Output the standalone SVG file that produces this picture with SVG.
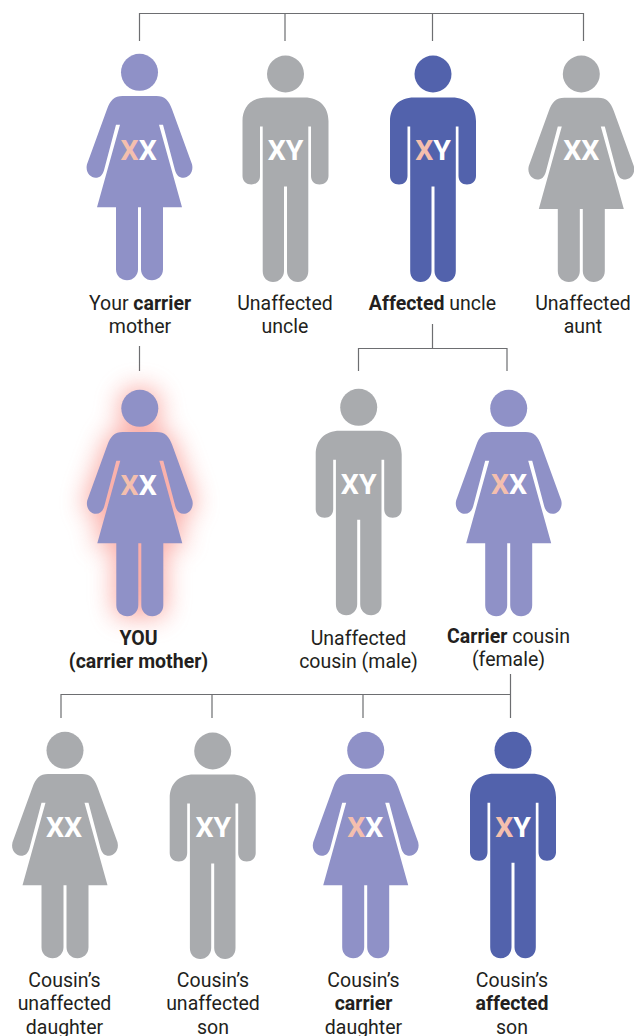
<svg xmlns="http://www.w3.org/2000/svg" width="634" height="1036" viewBox="0 0 634 1036">
<style>
text{font-family:Roboto,"Liberation Sans",sans-serif;font-size:19.500px;fill:#231f20;text-anchor:middle}
.b{font-weight:700}
.g{font-size:28.500px;font-weight:700;fill:#fff}
.p{fill:#f4bfae}
.gray{fill:#a9abae}.pur{fill:#8f91c7}.dark{fill:#5262ac}
.conn{fill:none;stroke:#6d6e71;stroke-width:1.200}
</style>
<defs>
<g id="f">
<circle cx="0" cy="0" r="18.500"/>
<path d="M0,23.700H17C25,23.700 29.500,28 32.500,37L52.500,92C54.500,100 49,105.500 44,105.500C39.500,105.500 37,103 35.500,98L23.500,52.500H19.500L42.500,135H23.500V197C23.500,204 18,208 12.500,208C6,208 1.500,203 1.500,197V135H-1.500V197C-1.500,203 -6,208 -12.500,208C-18,208 -23.500,204 -23.500,197V135H-42.500L-19.500,52.500H-23.500L-35.500,98C-37,103 -39.500,105.500 -44,105.500C-49,105.500 -54.500,100 -52.500,92L-32.500,37C-29.500,28 -25,23.700 -17,23.700Z"/>
</g>
<g id="m">
<circle cx="0" cy="0" r="18.500"/>
<path d="M0,23.500H19C34,23.500 43,33 43,47V102C43,107 39,110.500 34,110.500C29,110.500 25.500,107 25.500,102V52.500H22.800V197C22.800,204 18,208 12.500,208C6,208 1.500,203 1.500,197V112.500H-1.500V197C-1.500,203 -6,208 -12.500,208C-18,208 -22.800,204 -22.800,197V52.500H-25.500V102C-25.500,107 -29,110.500 -34,110.500C-39,110.500 -43,107 -43,102V47C-43,33 -34,23.500 -19,23.500Z"/>
</g>
<filter id="glow" x="-70%" y="-35%" width="240%" height="170%"><feGaussianBlur stdDeviation="12"/></filter>
</defs>
<g id="connectors" class="conn">
<path d="M139.500,41V13.500H583.500V41M285,13.500V41M432.500,13.500V41"/>
<path d="M139.500,346V371"/>
<path d="M432.500,324V348.500M358.500,371V348.500H507V371"/>
<path d="M61,718V694.500H511M510.500,674V718M212,694.500V718M363,694.500V718"/>
</g>
<g id="mother"><use href="#f" x="139.500" y="72.300" class="pur"/><text class="g" x="138.700" y="160"><tspan class="p">X</tspan>X</text><text x="140" y="309.800">Your <tspan class="b">carrier</tspan></text><text x="140" y="333.200">mother</text></g>
<g id="uncle"><use href="#m" x="285.500" y="74" class="gray"/><text class="g" x="285.500" y="160">XY</text><text x="285" y="309.800">Unaffected</text><text x="285" y="333.200">uncle</text></g>
<g id="affected-uncle"><use href="#m" x="433" y="74" class="dark"/><text class="g" x="433" y="160"><tspan class="p">X</tspan>Y</text><text x="432.500" y="309.800"><tspan class="b">Affected</tspan> uncle</text></g>
<g id="aunt"><use href="#f" x="581.300" y="74" class="gray"/><text class="g" x="581.300" y="160">XX</text><text x="583" y="309.800">Unaffected</text><text x="583" y="333.200">aunt</text></g>
<g id="you"><use href="#f" x="139.800" y="408.300" fill="#f8837a" stroke="#f8837a" stroke-width="6" opacity=".65" filter="url(#glow)"/><use href="#f" x="139.800" y="408.300" class="pur"/><text class="g" x="138.700" y="495"><tspan class="p">X</tspan>X</text><text class="b" x="138.500" y="644.800">YOU</text><text class="b" x="138.500" y="668.200">(carrier mother)</text></g>
<g id="cousin-male"><use href="#m" x="358.700" y="407.300" class="gray"/><text class="g" x="358.700" y="494">XY</text><text x="358.500" y="644.800">Unaffected</text><text x="358.500" y="668.200">cousin (male)</text></g>
<g id="cousin-female"><use href="#f" x="508.700" y="408.300" class="pur"/><text class="g" x="509" y="494"><tspan class="p">X</tspan>X</text><text x="508.500" y="642.800"><tspan class="b">Carrier</tspan> cousin</text><text x="508.500" y="666.200">(female)</text></g>
<g id="daughter1"><use href="#f" x="65" y="750.300" class="gray"/><text class="g" x="64" y="837">XX</text><text x="64.500" y="986.600">Cousin’s</text><text x="64.500" y="1010">unaffected</text><text x="64.500" y="1033.500">daughter</text></g>
<g id="son1"><use href="#m" x="212.700" y="751" class="gray"/><text class="g" x="213.300" y="837">XY</text><text x="213" y="986.600">Cousin’s</text><text x="213" y="1010">unaffected</text><text x="213" y="1033.500">son</text></g>
<g id="daughter2"><use href="#f" x="365.700" y="750.300" class="pur"/><text class="g" x="365.300" y="837"><tspan class="p">X</tspan>X</text><text x="363.500" y="986.600">Cousin’s</text><text class="b" x="363.500" y="1010">carrier</text><text x="363.500" y="1033.500">daughter</text></g>
<g id="son2"><use href="#m" x="513" y="750.300" class="dark"/><text class="g" x="513" y="837"><tspan class="p">X</tspan>Y</text><text x="512" y="986.600">Cousin’s</text><text class="b" x="512" y="1010">affected</text><text x="512" y="1033.500">son</text></g>
</svg>
